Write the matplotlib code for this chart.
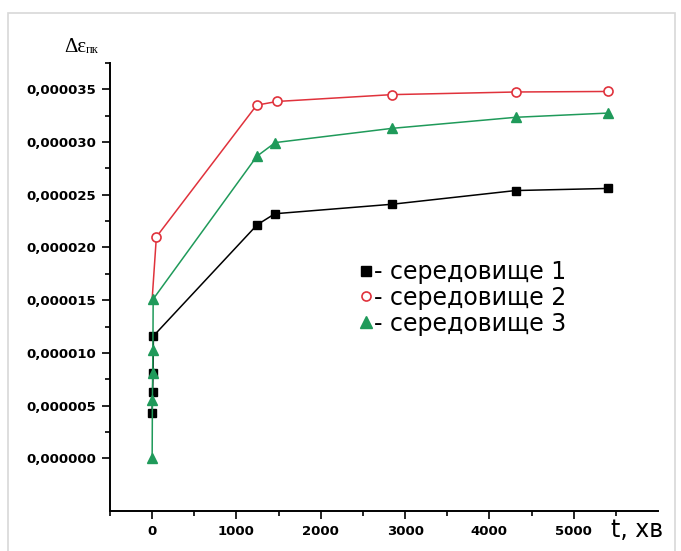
import matplotlib
matplotlib.use("Agg")
import matplotlib.pyplot as plt
from matplotlib.lines import Line2D
from matplotlib.patches import Rectangle

# time, min
t1 = [0, 5, 10, 15, 1245, 1455, 2845, 4310, 5405]
eps1 = [4.3e-6, 6.3e-6, 8.1e-6, 11.6e-6, 22.15e-6, 23.2e-6, 24.1e-6, 25.4e-6, 25.6e-6]

t2 = [0, 50, 1240, 1480, 2845, 4320, 5410]
eps2 = [15.1e-6, 21.0e-6, 33.5e-6, 33.85e-6, 34.5e-6, 34.75e-6, 34.8e-6]

t3 = [0, 3, 6, 9, 12, 1242, 1460, 2845, 4315, 5405]
eps3 = [0.0, 5.5e-6, 8.1e-6, 10.3e-6, 15.1e-6, 28.65e-6, 29.95e-6, 31.3e-6, 32.35e-6, 32.75e-6]

labels = ["- середовище 1", "- середовище 2", "- середовище 3"]
yticks = [0, 5e-6, 10e-6, 15e-6, 20e-6, 25e-6, 30e-6, 35e-6]
ytick_labels = ["0,000000", "0,000005", "0,000010", "0,000015",
                "0,000020", "0,000025", "0,000030", "0,000035"]
xticks = [0, 1000, 2000, 3000, 4000, 5000]

RED = "#e0323c"
GREEN = "#1f9a5a"

fig = plt.figure(figsize=(6.81, 5.51), dpi=100)
ax = fig.add_axes([110 / 681, 1 - 511 / 551, 548 / 681, 448 / 551])

# light frame around the picture
fig.patches.append(Rectangle((8 / 681, -0.01), 667 / 681, 1 - 13 / 551 + 0.01,
                             transform=fig.transFigure, fill=False,
                             edgecolor="#d8d8d8", lw=1.2))

ax.plot(t1, eps1, color="black", lw=1.1, marker="s", ms=5.8,
        mfc="black", mec="black")
ax.plot(t2, eps2, color=RED, lw=1.1, marker="o", ms=6.5,
        mfc="white", mec=RED, mew=1.2, markevery=list(range(1, len(t2))))
ax.plot(t3, eps3, color=GREEN, lw=1.1, marker="^", ms=7.2,
        mfc=GREEN, mec=GREEN)

ax.set_xlim(-500, 6000)
ax.set_ylim(-5.0e-6, 37.5e-6)

for side in ["top", "right"]:
    ax.spines[side].set_visible(False)
for side in ["left", "bottom"]:
    ax.spines[side].set_linewidth(1.4)

ax.set_yticks(yticks)
ax.set_yticklabels(ytick_labels)
ax.set_yticks([v + 2.5e-6 for v in yticks], minor=True)
ax.set_xticks(xticks)
ax.set_xticklabels([str(v) for v in xticks])
ax.set_xticks([v + 500 for v in [-1000] + xticks], minor=True)

ax.tick_params(axis="both", which="major", direction="out", length=6,
               width=1.2, labelsize=9.5, pad=4)
ax.tick_params(axis="both", which="minor", direction="out", length=3.5,
               width=1.2)
for lab in ax.get_xticklabels() + ax.get_yticklabels():
    lab.set_fontweight("bold")

handles = [
    Line2D([], [], ls="none", marker="s", ms=6.5, mfc="black", mec="black"),
    Line2D([], [], ls="none", marker="o", ms=6.5, mfc="white", mec=RED, mew=1.2),
    Line2D([], [], ls="none", marker="^", ms=8, mfc=GREEN, mec=GREEN),
]
ax.legend(handles, labels, loc="upper left", bbox_to_anchor=(0.432, 0.587),
          frameon=False, handlelength=0.6, handletextpad=0.05,
          labelspacing=0.08, borderpad=0,
          prop={"family": "DejaVu Sans", "size": 17})

# axis titles
fig.text(64 / 681, 1 - 52 / 551, "Δε", family="Liberation Serif", fontsize=15)
fig.text(86 / 681, 1 - 53 / 551, "пк", family="Liberation Serif", fontsize=9)
fig.text(611 / 681, 1 - 537 / 551, "t, хв", family="DejaVu Sans", fontsize=17)

fig.savefig("out.png", dpi=100)
